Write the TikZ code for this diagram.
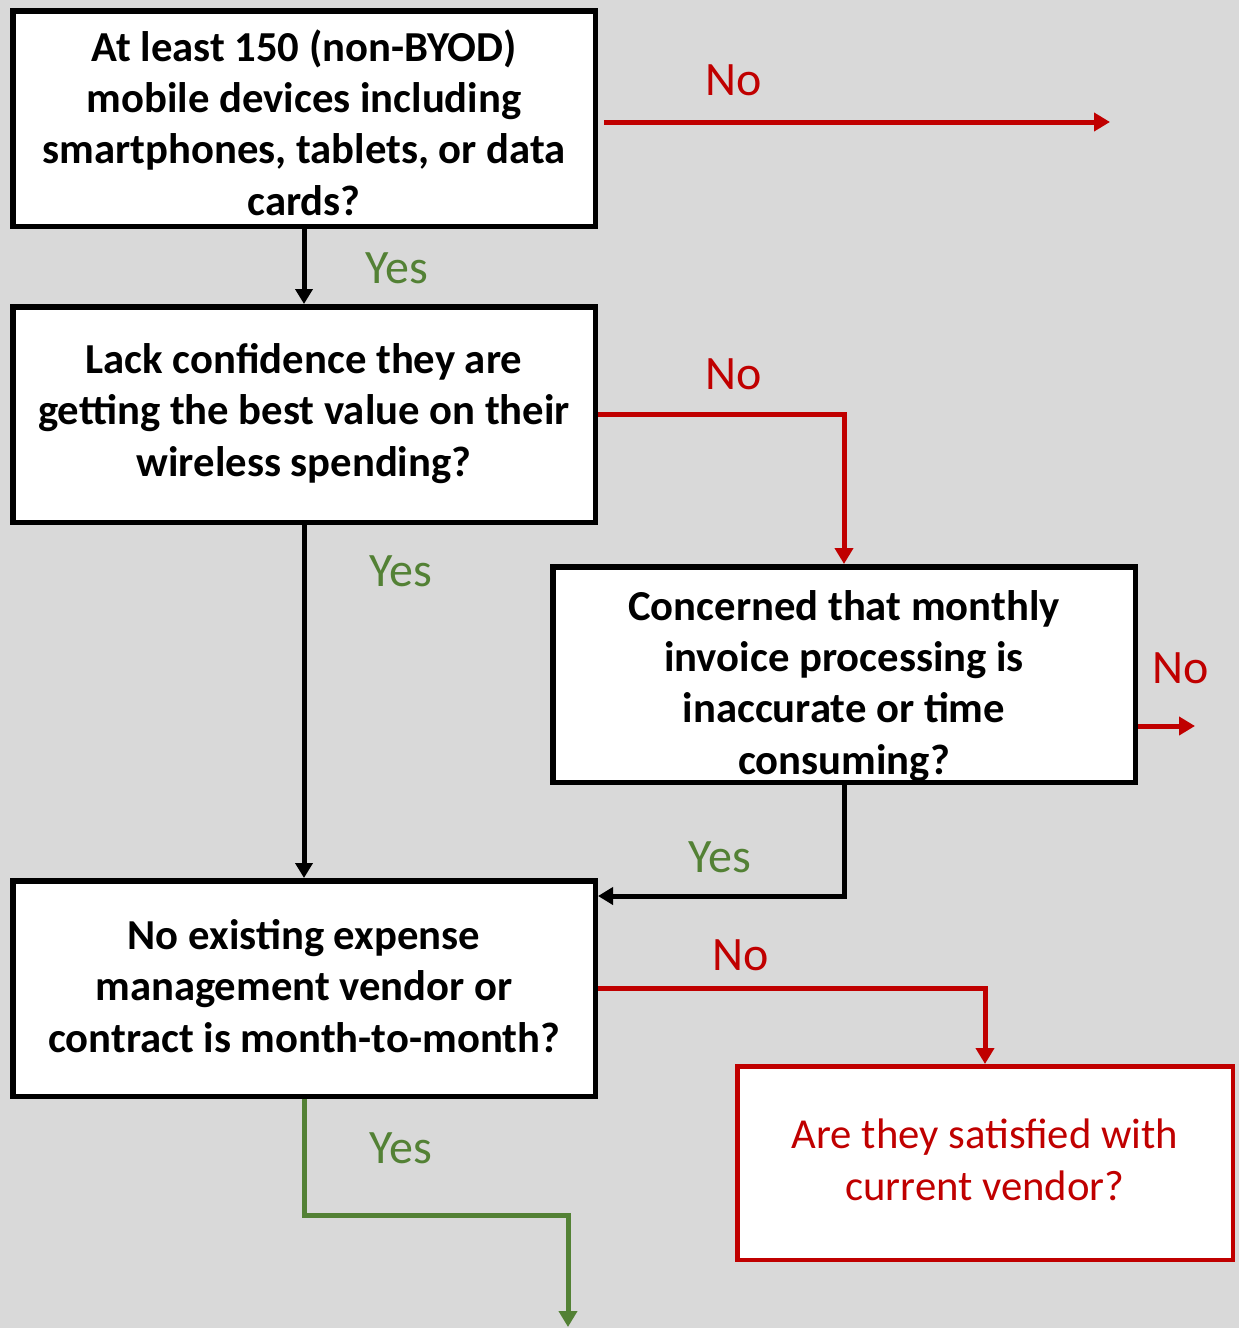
\documentclass[tikz,border=0pt]{standalone}
\usepackage{fontspec}
\setmainfont{Carlito}
\usetikzlibrary{arrows.meta,calc}
\definecolor{bg}{HTML}{D9D9D9}
\definecolor{cred}{HTML}{C00000}
\definecolor{cgreen}{HTML}{538135}
\begin{document}
\begin{tikzpicture}[x=1pt,y=-1pt,
  qbox/.style={draw=black,fill=white,line width=5.5pt,inner sep=0pt,
    minimum width=582.5pt,minimum height=215.5pt,align=center,text depth=0pt,
    font=\bfseries\fontsize{42.7}{51.3}\selectfont},
  rbox/.style={draw=cred,fill=white,line width=4.5pt,inner sep=0pt,
    minimum width=495.5pt,minimum height=193.5pt,align=center,text=cred,text depth=0pt,
    font=\fontsize{42.7}{51.3}\selectfont},
  blk/.style={draw=black,line width=5pt,-{Triangle[length=15pt,width=17pt]}},
  redl/.style={draw=cred,line width=5pt,-{Triangle[length=16pt,width=18pt]}},
  grnl/.style={draw=cgreen,line width=5pt,-{Triangle[length=16pt,width=18pt]}},
  nolab/.style={text=cred,font=\fontsize{48}{58}\selectfont,inner sep=0pt},
  yeslab/.style={text=cgreen,font=\fontsize{48}{58}\selectfont,inner sep=0pt}]
\useasboundingbox[fill=bg] (0,0) rectangle (1239,1328);

\node[qbox,text height=193pt] (b1) at (304,118.5) {At least 150 (non-BYOD)\\mobile devices including\\smartphones, tablets, or data\\cards?};
\node[qbox,text height=123pt] (b2) at (304,414.5) {Lack confidence they are\\getting the best value on their\\wireless spending?};
\node[qbox,text height=199pt] (b3) at (844,674.5) {Concerned that monthly\\invoice processing is\\inaccurate or time\\consuming?};
\node[qbox,text height=127pt] (b4) at (304,988.5) {No existing expense\\management vendor or\\contract is month-to-month?};
\node[rbox,text height=74pt] (b5) at (985,1163) {Are they satisfied with\\current vendor?};

\coordinate (e1) at (1110,122);
\coordinate (e3) at (1195,726);
\coordinate (y34) at (0,896);
\coordinate (e4) at (568,1327);

\draw[redl,shorten <=6pt] (b1.east |- e1) -- (e1);
\draw[blk] (b1.south) -- (b2.north);
\draw[redl] (b2.east) -| (b3.north);
\draw[blk] (b2.south) -- (b4.north);
\draw[redl] (b3.east |- e3) -- (e3);
\draw[blk] (b3.south) |- (b4.east |- y34);
\draw[redl] (b4.east) -| (b5.north);
\draw[grnl] (b4.south) -- ++(0,116) -| (e4);

\node[nolab] (n1) at (734,80) {No};
\node[yeslab] (y1) at (397,268) {Yes};
\node[nolab] (n2) at (734,374) {No};
\node[yeslab] (y2) at (401,571) {Yes};
\node[nolab] (n3) at (1181,668) {No};
\node[yeslab] (y3) at (720,857) {Yes};
\node[nolab] (n4) at (741,955) {No};
\node[yeslab] (y4) at (401,1148) {Yes};
\end{tikzpicture}
\end{document}
